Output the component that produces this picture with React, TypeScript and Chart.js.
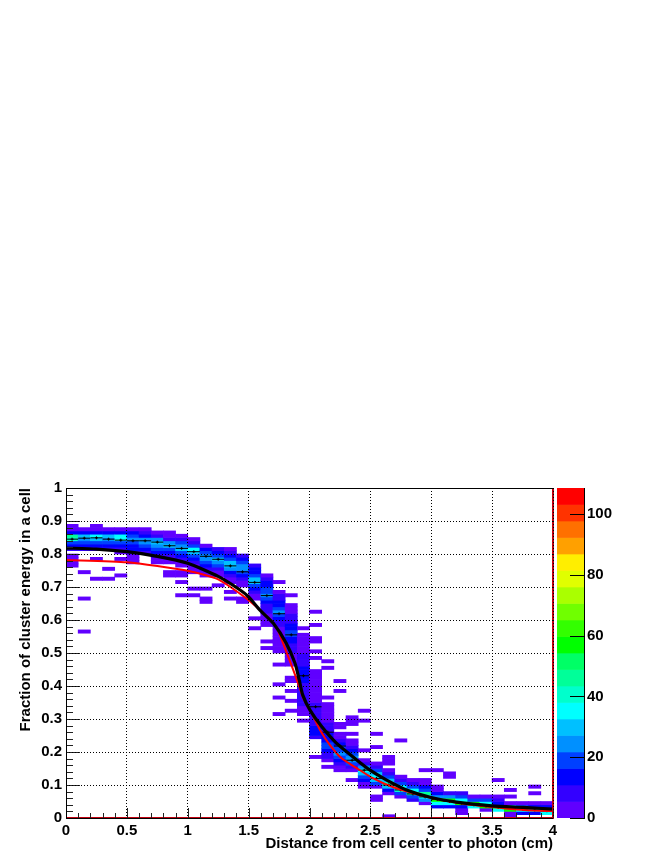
import { useEffect, useRef } from "react";
import Chart from "chart.js/auto";

const FONT = "'Liberation Sans', Arial, sans-serif";

const xTitle = "Distance from cell center to photon (cm)";
const yTitle = "Fraction of cluster energy in a cell";

const xBinWidth = 0.1;
const yBinWidth = 0.01;

// For each 0.1-wide x bin: runs of [first y bin, count, count, ...], bottom to top.
const histColumns: number[][][] = [
  [[76, 2, 2, 2, 2], [81, 8, 13, 19, 41, 46, 13, 2, 2]],
  [[56, 2], [66, 2], [74, 2], [81, 8, 13, 19, 24, 30, 13, 2]],
  [[72, 2], [78, 2], [81, 8, 13, 19, 30, 35, 13, 2, 2]],
  [[72, 2], [75, 2], [81, 8, 13, 19, 24, 30, 13, 2]],
  [[73, 2], [78, 2], [80, 2, 8, 13, 19, 35, 35, 13, 2]],
  [[77, 2, 2, 2, 8, 13, 13, 19, 24, 19, 13, 2]],
  [[80, 8, 13, 19, 24, 24, 13, 8, 2]],
  [[77, 2, 2, 8, 13, 19, 24, 30, 24, 8, 2]],
  [[73, 2, 2], [77, 2, 2, 8, 13, 19, 30, 24, 8, 2, 2]],
  [[67, 2], [71, 2], [73, 2, 2], [76, 2, 2, 8, 13, 19, 30, 24, 19, 8, 2]],
  [[67, 2], [69, 2], [74, 2, 2, 2, 8, 13, 19, 30, 35, 19, 8, 2]],
  [[65, 2, 2], [69, 2], [73, 2, 2, 8, 13, 19, 24, 24, 19, 13, 2]],
  [[70, 2], [73, 2, 2, 8, 19, 24, 30, 19, 13, 8]],
  [[66, 2], [68, 2], [71, 2, 2, 8, 13, 24, 30, 30, 19, 13, 8, 2]],
  [[65, 2, 2], [70, 2, 2, 8, 13, 19, 24, 24, 19, 13, 8]],
  [[57, 2], [60, 2], [66, 2, 2, 8, 13, 19, 30, 30, 19, 13, 13, 8]],
  [[51, 2], [53, 2], [58, 2, 2, 2, 2, 8, 8, 8, 13, 19, 24, 19, 19, 13, 13, 8, 2]],
  [[31, 2], [36, 2], [40, 2], [46, 2], [50, 2, 2, 2, 2, 2, 2, 2, 2, 8, 8, 13, 19, 24, 19, 13, 13, 8, 8, 2], [71, 2]],
  [[32, 2], [35, 2], [38, 2], [41, 2, 2], [46, 2, 2, 2, 2, 8, 8, 8, 13, 13, 19, 19, 13, 13, 8, 8, 8, 2, 2, 2], [67, 2]],
  [[29, 2], [31, 2, 2, 2, 8, 8, 8, 8, 8, 8, 8, 13, 13, 13, 13, 13, 8, 8, 8, 8, 2, 2, 2, 2, 2, 2], [57, 2]],
  [[18, 2], [24, 8, 13, 13, 13, 8, 8, 8, 8, 8, 8, 8, 2, 2, 2, 2, 2, 2, 2, 2, 2, 2], [48, 2], [50, 2], [53, 2, 2], [58, 2], [62, 2]],
  [[15, 2], [17, 2, 8, 8, 13, 19, 19, 13, 13, 13, 8, 8, 8, 2, 2, 2, 2, 2, 2], [36, 2], [45, 2], [47, 2]],
  [[14, 2, 2, 8, 13, 19, 24, 19, 19, 13, 8, 2, 2], [27, 2, 2], [38, 2], [41, 2]],
  [[11, 2], [14, 2, 8, 19, 24, 24, 19, 13, 8, 2, 2], [25, 2], [28, 2, 2, 2]],
  [[9, 2, 2, 13, 19, 30, 35, 24, 8, 2], [20, 2], [29, 2], [32, 2]],
  [[5, 2, 2], [9, 2, 19, 30, 35, 30, 19, 8, 2], [21, 2], [25, 2]],
  [[0, 2], [7, 2, 13, 30, 41, 30, 19, 8, 2], [16, 2, 2, 2]],
  [[6, 2, 19, 41, 35, 19, 8, 2], [23, 2]],
  [[5, 8, 19, 46, 35, 19, 8, 2]],
  [[4, 2, 24, 35, 46, 19, 13, 2, 2], [14, 2]],
  [[3, 13, 35, 57, 24, 13, 2, 2], [14, 2]],
  [[3, 13, 35, 57, 24, 8], [12, 2, 2]],
  [[1, 2, 2, 13, 57, 35, 19, 8]],
  [[3, 35, 57, 19, 2]],
  [[2, 2, 57, 35, 19, 2]],
  [[2, 35, 57, 13, 8, 2], [11, 2]],
  [[0, 2, 2, 57, 30, 2], [6, 2], [8, 2]],
  [[1, 13, 35, 19, 2]],
  [[1, 13, 35, 13, 2], [7, 2], [9, 2]],
  [[1, 35, 19, 13, 2]],
];

const zMax = 108.6;
const palette = [
  "#6000ff", "#3300ff", "#0000ff", "#0040ff", "#0090ff", "#00c0ff", "#00ffff", "#00ffcc", "#00ff99", "#00ff66",
  "#00ff00", "#33ff00", "#70ff00", "#aaff00", "#e0ff00", "#ffee00", "#ffa000", "#ff7000", "#ff3300", "#ff0000",
];

const profileX = [
  0.05, 0.15, 0.25, 0.35, 0.45, 0.55, 0.65, 0.75, 0.85, 0.95, 1.05, 1.15, 1.25, 1.35, 1.45, 1.55, 1.65, 1.75, 1.85, 1.95,
  2.05, 2.15, 2.25, 2.35, 2.45, 2.55, 2.65, 2.75, 2.85, 2.95, 3.05, 3.15, 3.25, 3.35, 3.45, 3.55, 3.65, 3.75, 3.85, 3.95,
];
const profileY = [
  0.845, 0.848, 0.849, 0.845, 0.842, 0.84, 0.84, 0.836, 0.825, 0.817, 0.807, 0.793, 0.784, 0.764, 0.746, 0.714, 0.674, 0.619, 0.555, 0.431,
  0.337, 0.26, 0.218, 0.175, 0.145, 0.12, 0.1, 0.085, 0.073, 0.064, 0.056, 0.05, 0.044, 0.04, 0.036, 0.032, 0.029, 0.027, 0.024, 0.022,
];

const blackX = [0, 0.25, 0.5, 0.75, 1, 1.25, 1.43, 1.5, 1.593, 1.703, 1.81, 1.881, 1.916, 1.944, 2.004, 2.1, 2.223, 2.388, 2.497, 2.634, 2.798, 3, 3.209, 3.496, 3.755, 4];
const blackY = [0.818, 0.815, 0.807, 0.793, 0.772, 0.732, 0.691, 0.67, 0.63, 0.59, 0.529, 0.469, 0.418, 0.373, 0.327, 0.277, 0.226, 0.176, 0.145, 0.115, 0.085, 0.062, 0.048, 0.037, 0.032, 0.027];

const redX = [0, 0.5, 1, 1.25, 1.5, 1.717, 1.799, 1.867, 1.916, 1.949, 2.018, 2.086, 2.168, 2.264, 2.388, 2.524, 2.689, 2.88, 3.07, 3.29, 3.54, 3.7, 3.89, 4];
const redY = [0.782, 0.775, 0.749, 0.723, 0.66, 0.585, 0.514, 0.448, 0.398, 0.363, 0.317, 0.267, 0.221, 0.181, 0.151, 0.12, 0.093, 0.072, 0.055, 0.042, 0.032, 0.026, 0.022, 0.021];

const edgeX = [4, 4, 0];
const edgeY = [1, 0, 0];

const zip = (xs: number[], ys: number[]) => xs.map((x, i) => ({ x, y: ys[i] }));

const colorFor = (count: number) => palette[Math.min(palette.length - 1, Math.floor((count / zMax) * palette.length))];

const histBars: { x: number; y: number[]; c: string }[] = [];
histColumns.forEach((runs, col) => {
  runs.forEach(([first, ...counts]) => {
    counts.forEach((count, k) => {
      const j = first + k;
      histBars.push({
        x: (col + 0.5) * xBinWidth,
        y: [j * yBinWidth, (j + 1) * yBinWidth],
        c: colorFor(count),
      });
    });
  });
});

const framePlugin = {
  id: "rootFrame",
  afterDatasetsDraw(chart: any) {
    const { ctx, chartArea: a, scales } = chart;
    ctx.save();
    ctx.strokeStyle = "#222";
    ctx.lineWidth = 1;
    ctx.beginPath();
    for (let i = 0; i <= 50; i++) {
      const y = Math.round(scales.y.getPixelForValue(i * 0.02)) + 0.5;
      ctx.moveTo(a.left, y);
      ctx.lineTo(a.left + (i % 5 === 0 ? 14 : 7), y);
    }
    for (let i = 0; i <= 40; i++) {
      const x = Math.round(scales.x.getPixelForValue(i * 0.1)) + 0.5;
      ctx.moveTo(x, a.bottom);
      ctx.lineTo(x, a.bottom - (i % 5 === 0 ? 10 : 5));
    }
    ctx.stroke();
    ctx.strokeStyle = "#000";
    ctx.beginPath();
    ctx.moveTo(a.left + 0.5, a.bottom + 0.5);
    ctx.lineTo(a.left + 0.5, a.top + 0.5);
    ctx.lineTo(a.right + 0.5, a.top + 0.5);
    ctx.moveTo(a.left, a.bottom + 0.5);
    ctx.lineTo(a.right, a.bottom + 0.5);
    ctx.stroke();
    ctx.restore();
  },
};

const barTicksPlugin = {
  id: "barTicks",
  afterDatasetsDraw(chart: any) {
    const { ctx, chartArea: a, scales } = chart;
    ctx.save();
    ctx.strokeStyle = "#000";
    ctx.lineWidth = 1;
    ctx.beginPath();
    scales.y.ticks.forEach((t: any) => {
      const y = Math.round(scales.y.getPixelForValue(t.value)) + 0.5;
      ctx.moveTo(a.right - 14, y);
      ctx.lineTo(a.right, y);
    });
    ctx.moveTo(a.right + 0.5, a.top);
    ctx.lineTo(a.right + 0.5, a.bottom + 1);
    ctx.stroke();
    ctx.restore();
  },
};

export default function App() {
  const mainRef = useRef<HTMLCanvasElement>(null);
  const barRef = useRef<HTMLCanvasElement>(null);

  useEffect(() => {
    const tickFont = { family: FONT, size: 15, weight: "bold" as const };
    const main = new Chart(mainRef.current!, {
      type: "bar",
      data: {
        datasets: [
          {
            type: "bar",
            data: histBars as any,
            backgroundColor: histBars.map((b) => b.c),
            barThickness: 12.18,
            grouped: false,
            order: 5,
          } as any,
          {
            type: "scatter",
            data: zip(profileX, profileY),
            pointStyle: "line",
            pointRadius: 6,
            pointBorderColor: "#000",
            pointBorderWidth: 1,
            order: 4,
          } as any,
          {
            type: "scatter",
            data: zip(profileX, profileY),
            pointStyle: "cross",
            pointRadius: 1.5,
            pointBorderColor: "#000",
            pointBorderWidth: 1,
            order: 4,
          } as any,
          {
            type: "line",
            data: zip(redX, redY),
            borderColor: "#ff0000",
            borderWidth: 2,
            pointRadius: 0,
            tension: 0.2,
            order: 3,
          } as any,
          {
            type: "line",
            data: zip(blackX, blackY),
            borderColor: "#000",
            borderWidth: 3.2,
            pointRadius: 0,
            tension: 0.2,
            order: 2,
          } as any,
          {
            type: "line",
            data: zip(edgeX, edgeY),
            borderColor: "#c00010",
            borderWidth: 2,
            pointRadius: 0,
            clip: false,
            order: 1,
          } as any,
        ],
      },
      options: {
        animation: false,
        responsive: false,
        layout: { padding: { left: 0, top: 488, right: 664 - 553, bottom: 0 } },
        plugins: { legend: { display: false }, tooltip: { enabled: false } },
        scales: {
          x: {
            type: "linear",
            min: 0,
            max: 4,
            offset: false,
            afterFit: (s: any) => {
              s.height = 42;
            },
            grid: { color: "#000", lineWidth: 1, z: 1, drawTicks: false, offset: false },
            border: { display: false, dash: [1, 2] },
            ticks: {
              stepSize: 0.5,
              color: "#000",
              font: tickFont,
              padding: 4,
              maxRotation: 0,
              callback: (v: any) => String(v),
            },
            title: {
              display: true,
              text: xTitle,
              align: "end",
              color: "#000",
              font: { family: FONT, size: 15, weight: "bold" },
              padding: { top: 0, bottom: 7 },
            },
          },
          y: {
            type: "linear",
            min: 0,
            max: 1,
            afterFit: (s: any) => {
              s.width = 66;
            },
            grid: { color: "#000", lineWidth: 1, z: 1, drawTicks: false },
            border: { display: false, dash: [1, 2] },
            ticks: {
              stepSize: 0.1,
              color: "#000",
              font: tickFont,
              padding: 4,
              callback: (v: any) => String(Math.round(v * 10) / 10),
            },
            title: {
              display: true,
              text: yTitle,
              align: "end",
              color: "#000",
              font: { family: FONT, size: 15, weight: "bold" },
              padding: { top: 17, bottom: 0 },
            },
          },
        },
      } as any,
      plugins: [framePlugin],
    });

    const bandEdges = palette.map((_, i) => [(i * zMax) / palette.length, ((i + 1) * zMax) / palette.length]);
    const scaleBar = new Chart(barRef.current!, {
      type: "bar",
      data: {
        datasets: [
          {
            data: bandEdges.map((y) => ({ x: 0.5, y })) as any,
            backgroundColor: palette,
            barThickness: 27,
            grouped: false,
          } as any,
        ],
      },
      options: {
        animation: false,
        responsive: false,
        layout: { padding: { left: 17, top: 8, right: 0, bottom: 30 } },
        plugins: { legend: { display: false }, tooltip: { enabled: false } },
        scales: {
          x: { type: "linear", min: 0, max: 1, display: false },
          y: {
            type: "linear",
            position: "right",
            min: 0,
            max: zMax,
            afterFit: (s: any) => {
              s.width = 124 - 44;
              s.paddingTop = 0;
              s.paddingBottom = 0;
            },
            grid: { display: false, drawTicks: false, offset: false },
            border: { display: false },
            ticks: { stepSize: 20, includeBounds: false, color: "#000", font: tickFont, padding: 3 },
          },
        },
      } as any,
      plugins: [barTicksPlugin],
    });

    return () => {
      main.destroy();
      scaleBar.destroy();
    };
  }, []);

  return (
    <div style={{ position: "absolute", left: 0, top: 0, width: 664, height: 860 }}>
      <canvas ref={mainRef} width={664} height={860} style={{ position: "absolute", left: 0, top: 0 }} />
      <canvas ref={barRef} width={124} height={368} style={{ position: "absolute", left: 540, top: 480 }} />
    </div>
  );
}
